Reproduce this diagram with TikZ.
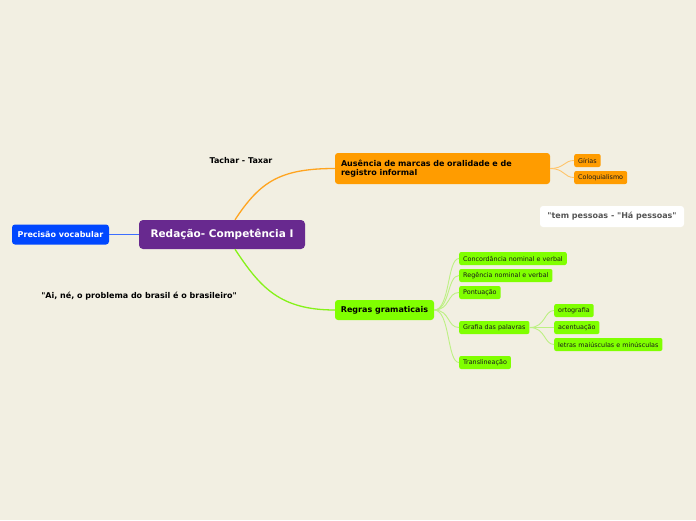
\documentclass[tikz,border=0pt]{standalone}
\usepackage{fontspec}
\setmainfont{DejaVu Sans}
\definecolor{bgcream}{HTML}{F2EFE2}
\definecolor{mainpurple}{HTML}{68298F}
\definecolor{vocblue}{HTML}{0047FF}
\definecolor{oralorange}{HTML}{FF9C00}
\definecolor{gramgreen}{HTML}{80FF00}
\definecolor{lineblue}{HTML}{3D6EFF}
\definecolor{lineorange}{HTML}{FFA41F}
\definecolor{lightorange}{HTML}{FFC46A}
\definecolor{linegreen}{HTML}{86F21A}
\definecolor{lightgreen}{HTML}{BDF083}
\definecolor{notegray}{HTML}{555555}
\tikzset{
  topbox/.style={rounded corners=4pt, inner sep=0pt, text=white,
    font=\bfseries\fontsize{10.5}{12}\selectfont},
  branchbox/.style={rounded corners=3pt, inner sep=0pt,
    font=\bfseries\fontsize{8}{9.6}\selectfont},
  leafbox/.style={rounded corners=2pt, inner xsep=4pt, inner ysep=0pt,
    minimum height=13pt, anchor=west, text=black!90,
    font=\fontsize{6.4}{7.5}\selectfont},
  freetext/.style={font=\bfseries\fontsize{8}{9.6}\selectfont},
  linkmain/.style={line width=1.3pt},
  linkleaf/.style={line width=0.9pt}
}
\begin{document}
\begin{tikzpicture}[x=1pt,y=-1pt]
\useasboundingbox (0,0) rectangle (696,520);
\fill[bgcream] (0,0) rectangle (696,520);
% main topic and branches
\node[topbox, fill=mainpurple, minimum width=166pt, minimum height=29pt]
  (redacao) at (222,234.5) {Redação- Competência I};
\node[branchbox, fill=vocblue, text=white, minimum width=97pt, minimum height=20pt]
  (precisao) at (60.5,234.5) {Precisão vocabular};
\node[branchbox, fill=oralorange, text width=203pt, inner xsep=6pt, align=left,
  minimum height=31pt] (ausencia) at (442.5,168.5)
  {Ausência de marcas de oralidade e de\\registro informal};
\node[branchbox, fill=gramgreen, minimum width=99pt, minimum height=20pt]
  (regras) at (384.5,310) {Regras gramaticais};
% loose notes
\node[freetext] (tachar) at (241,161) {Tachar - Taxar};
\node[freetext] (ai) at (139,296)
  {\textquotedbl Ai, né, o problema do brasil é o brasileiro\textquotedbl};
\node[branchbox, fill=white, text=notegray, minimum width=144pt, minimum height=21pt]
  (pessoas) at (612,216.5) {\textquotedbl tem pessoas - \textquotedbl Há pessoas\textquotedbl};
% leaves
\node[leafbox, fill=oralorange] (girias) at (574,160.5) {Gírias};
\node[leafbox, fill=oralorange] (coloq) at (574,177.5) {Coloquialismo};
\node[leafbox, fill=gramgreen] (concord) at (459,258.5) {Concordância nominal e verbal};
\node[leafbox, fill=gramgreen] (regencia) at (459,275.5) {Regência nominal e verbal};
\node[leafbox, fill=gramgreen] (pontua) at (459,292.5) {Pontuação};
\node[leafbox, fill=gramgreen] (grafia) at (459,327.5) {Grafia das palavras};
\node[leafbox, fill=gramgreen] (transl) at (459,362.5) {Translineação};
\node[leafbox, fill=gramgreen] (orto) at (554,310.5) {ortografia};
\node[leafbox, fill=gramgreen] (acento) at (554,327.5) {acentuação};
\node[leafbox, fill=gramgreen] (letras) at (554,344.5) {letras maiúsculas e minúsculas};
% connectors
\draw[linkmain, lineblue] (precisao.east) -- (redacao.west);
\draw[linkmain, lineorange] ([xshift=13pt]redacao.north)
  .. controls +(25,-38) and +(-55,0) .. (ausencia.west);
\draw[linkmain, linegreen] ([xshift=13pt]redacao.south)
  .. controls +(25,38) and +(-55,0) .. (regras.west);
\foreach \leaf in {girias,coloq}
  \draw[linkleaf, lightorange] (ausencia.east) .. controls +(14,0) and +(-10,0) .. (\leaf.west);
\foreach \leaf in {concord,regencia,pontua,grafia,transl}
  \draw[linkleaf, lightgreen] (regras.east) .. controls +(16,0) and +(-12,0) .. (\leaf.west);
\foreach \leaf in {orto,acento,letras}
  \draw[linkleaf, lightgreen] (grafia.east) .. controls +(16,0) and +(-10,0) .. (\leaf.west);
\end{tikzpicture}
\end{document}
